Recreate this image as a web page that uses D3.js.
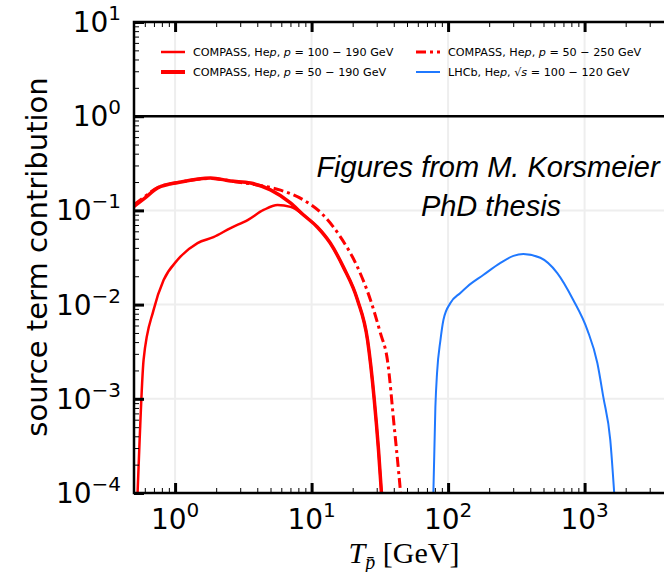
<!DOCTYPE html>
<html>
<head>
<meta charset="utf-8">
<script src="https://cdn.jsdelivr.net/npm/d3@7"></script>
<style>
  body { margin: 0; background: #fff; }
  text { font-family: "DejaVu Sans", sans-serif; }
</style>
</head>
<body>
<svg width="664" height="572"></svg>
<script>
// values
const xMajor = [1, 10, 100, 1000];
const yMajor = [1e-4, 1e-3, 1e-2, 1e-1, 1, 10];

// COMPASS p = 100-190 GeV (thin solid)
const thinX = [0.52, 0.531, 0.55, 0.588, 0.696, 0.824, 1.04, 1.46, 1.91, 2.55, 3.40, 4.45, 5.63, 7.01, 8.73, 11.0, 13.7, 17.1, 21.7, 25.7, 28.8, 30.9, 32.5, 33.5];
const thinY = [5e-5, 1e-4, 3.7e-4, 2.6e-3, 8.8e-3, 0.0182, 0.0297, 0.045, 0.052, 0.065, 0.079, 0.101, 0.114, 0.109, 0.0894, 0.0667, 0.045, 0.025, 0.0112, 4.2e-3, 9.7e-4, 2.9e-4, 1e-4, 5e-5];

// COMPASS p = 50-190 GeV (thick solid)
const thickX = [0.5, 0.6, 0.745, 1.10, 1.82, 2.55, 3.57, 5.0, 7.0, 8.73, 11.0, 13.7, 17.1, 21.7, 25.7, 28.8, 30.9, 32.5, 33.5];
const thickY = [0.11, 0.135, 0.173, 0.20, 0.221, 0.205, 0.195, 0.165, 0.12, 0.0894, 0.0667, 0.045, 0.025, 0.0112, 4.2e-3, 9.7e-4, 2.9e-4, 1e-4, 5e-5];

// COMPASS p = 50-250 GeV (dash-dot)
const dashX = [0.5, 0.6, 0.745, 1.10, 1.82, 2.87, 4.02, 5.92, 8.73, 12.2, 16.3, 21.7, 27.0, 31.9, 35.9, 40.5, 43.3, 44.8, 46];
const dashY = [0.115, 0.14, 0.175, 0.2, 0.218, 0.2, 0.186, 0.164, 0.129, 0.089, 0.052, 0.025, 0.0112, 5.0e-3, 2.6e-3, 4.7e-4, 1.75e-4, 1e-4, 5e-5];

// LHCb sqrt(s) = 100-120 GeV
const lhcbX = [76, 78, 80.7, 83, 87.9, 92.5, 104, 123, 138, 181, 242, 301, 356, 474, 631, 826, 1047, 1240, 1372, 1542, 1648, 1700];
const lhcbY = [5e-5, 1e-4, 8.2e-4, 1.88e-3, 4.2e-3, 6.9e-3, 0.0104, 0.0133, 0.0155, 0.0206, 0.0277, 0.0329, 0.0344, 0.0314, 0.0216, 0.0112, 5.4e-3, 2.4e-3, 1.04e-3, 3.66e-4, 1e-4, 5e-5];

(function () {
  const svg = d3.select('svg');
  const pLeft = 134, pRight = 680, pTop = 22, pBottom = 493;

  const x = d3.scaleLog().domain([0.5, 5000]).range([pLeft, pRight]);
  const y = d3.scaleLog().domain([1e-4, 10]).range([pBottom, pTop]);

  svg.append('defs').append('clipPath').attr('id', 'clip')
    .append('rect').attr('x', pLeft).attr('y', pTop)
    .attr('width', pRight - pLeft).attr('height', pBottom - pTop);

  // grid
  const grid = svg.append('g').attr('stroke', '#eeeeee').attr('stroke-width', 2);
  xMajor.forEach(v => grid.append('line')
    .attr('x1', x(v)).attr('x2', x(v)).attr('y1', pTop).attr('y2', pBottom));
  yMajor.slice(1, -1).forEach(v => grid.append('line')
    .attr('x1', pLeft).attr('x2', pRight).attr('y1', y(v)).attr('y2', y(v)));

  // reference line at 1
  svg.append('line')
    .attr('x1', pLeft).attr('x2', pRight).attr('y1', y(1)).attr('y2', y(1))
    .attr('stroke', '#000').attr('stroke-width', 2.5);

  // curves
  const toPts = (xs, ys) => xs.map((v, i) => [x(v), y(ys[i])]);
  const line = d3.line().curve(d3.curveMonotoneX);
  const curves = svg.append('g').attr('clip-path', 'url(#clip)').attr('fill', 'none');

  curves.append('path').attr('d', line(toPts(thickX, thickY)))
    .attr('stroke', '#ff0000').attr('stroke-width', 3.5);
  curves.append('path').attr('d', line(toPts(dashX, dashY)))
    .attr('stroke', '#ff0000').attr('stroke-width', 3).attr('stroke-dasharray', '10,4,3,4');
  curves.append('path').attr('d', line(toPts(thinX, thinY)))
    .attr('stroke', '#ff0000').attr('stroke-width', 2.5);
  curves.append('path').attr('d', line(toPts(lhcbX, lhcbY)))
    .attr('stroke', '#1f78ff').attr('stroke-width', 2);

  // minor tick values
  const minorX = [], minorY = [];
  [0.1, 1, 10, 100, 1000].forEach(d => d3.range(2, 10).forEach(k => {
    const v = k * d;
    if (v > 0.5 && v < 5000) minorX.push(v);
  }));
  [1e-4, 1e-3, 1e-2, 1e-1, 1].forEach(d => d3.range(2, 10).forEach(k => minorY.push(k * d)));

  // axes with inward ticks
  const addAxis = (axisFn, scale, minor, major, transform) => {
    const g = svg.append('g').attr('transform', transform);
    g.append('g').call(axisFn(scale).tickValues(minor).tickSize(-5).tickFormat(''))
      .selectAll('.tick line').attr('stroke-width', 1);
    g.append('g').call(axisFn(scale).tickValues(major).tickSize(-10).tickFormat(''))
      .selectAll('.tick line').attr('stroke-width', 3);
    g.selectAll('.domain').remove();
  };
  addAxis(d3.axisBottom, x, minorX, xMajor, `translate(0,${pBottom})`);
  addAxis(d3.axisTop, x, minorX, xMajor, `translate(0,${pTop})`);
  addAxis(d3.axisLeft, y, minorY, yMajor, `translate(${pLeft},0)`);

  // frame
  svg.append('rect').attr('x', pLeft).attr('y', pTop)
    .attr('width', pRight - pLeft).attr('height', pBottom - pTop)
    .attr('fill', 'none').attr('stroke', '#000').attr('stroke-width', 2.5);

  // tick labels
  const exp = v => Math.round(Math.log10(v)).toString().replace('-', '\u2212');
  xMajor.forEach(v => {
    const t = svg.append('text').attr('x', x(v)).attr('y', 529)
      .attr('text-anchor', 'middle').attr('font-size', 28);
    t.append('tspan').text('10');
    t.append('tspan').attr('dy', -12).attr('font-size', 20).text(exp(v));
  });
  yMajor.forEach(v => {
    const t = svg.append('text').attr('x', 121).attr('y', y(v) + 10)
      .attr('text-anchor', 'end').attr('font-size', 28);
    t.append('tspan').text('10');
    t.append('tspan').attr('dy', -12).attr('font-size', 20).text(exp(v));
  });

  // axis titles
  svg.append('text')
    .attr('transform', 'translate(47,257) rotate(-90)')
    .attr('text-anchor', 'middle').attr('font-size', 29)
    .text('source term contribution');

  const xl = svg.append('text').attr('x', 404).attr('y', 563)
    .attr('text-anchor', 'middle')
    .style('font-family', '"Liberation Serif", serif').attr('font-size', 30);
  xl.append('tspan').attr('font-style', 'italic').text('T');
  xl.append('tspan').attr('font-style', 'italic').attr('font-size', 20).attr('dy', 6).text('p\u0304');
  xl.append('tspan').attr('dy', -6).text(' [GeV]');

  // note
  const note = svg.append('g').attr('font-size', 29).attr('font-style', 'italic')
    .attr('text-anchor', 'middle');
  note.append('text').attr('x', 488).attr('y', 177)
    .style('font-family', '"Liberation Sans", Arial, sans-serif').text('Figures from M. Korsmeier');
  note.append('text').attr('x', 491).attr('y', 216)
    .style('font-family', '"Liberation Sans", Arial, sans-serif').text('PhD thesis');

  // legend
  const legendItems = [
    { col: 0, row: 0, w: 2.5, dash: null, color: '#ff0000', text: ['COMPASS, He', 'p', ', ', 'p', ' = 100 \u2212 190 GeV'] },
    { col: 0, row: 1, w: 4, dash: null, color: '#ff0000', text: ['COMPASS, He', 'p', ', ', 'p', ' = 50 \u2212 190 GeV'] },
    { col: 1, row: 0, w: 3, dash: '10,4,3,4', color: '#ff0000', text: ['COMPASS, He', 'p', ', ', 'p', ' = 50 \u2212 250 GeV'] },
    { col: 1, row: 1, w: 2, dash: null, color: '#1f78ff', text: ['LHCb, He', 'p', ', \u221A', 's', ' = 100 \u2212 120 GeV'] }
  ];
  const colX = [161, 416], rowY = [52, 72];
  const legend = svg.append('g');
  legendItems.forEach(d => {
    const lx = colX[d.col], ly = rowY[d.row];
    legend.append('line').attr('x1', lx).attr('x2', lx + 24).attr('y1', ly).attr('y2', ly)
      .attr('stroke', d.color).attr('stroke-width', d.w)
      .attr('stroke-dasharray', d.dash);
    const t = legend.append('text').attr('x', lx + 32).attr('y', ly + 4).attr('font-size', 11.2);
    d.text.forEach((s, i) => t.append('tspan')
      .attr('font-style', i % 2 === 1 ? 'italic' : null)
      .style('white-space', 'pre').text(s));
  });
})();
</script>
</body>
</html>
